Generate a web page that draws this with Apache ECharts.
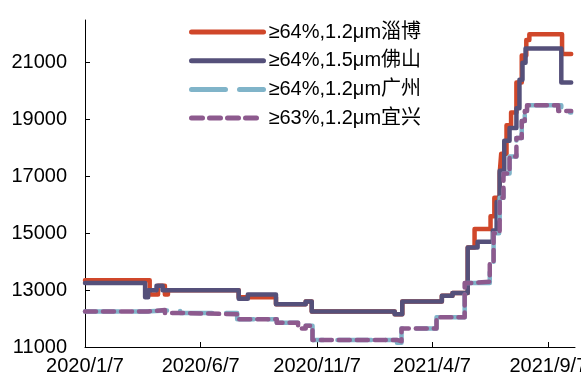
<!DOCTYPE html>
<html>
<head>
<meta charset="utf-8">
<script src="https://cdn.jsdelivr.net/npm/echarts@6/dist/echarts.min.js"></script>
<style>
  html, body { margin: 0; padding: 0; background: #fff; }
  #chart { width: 581px; height: 380px; }
</style>
</head>
<body>
<div id="chart"></div>
<script>
// series names (legend)
const seriesNames = ['≥64%,1.2μm淄博', '≥64%,1.5μm佛山', '≥64%,1.2μm广州', '≥63%,1.2μm宜兴'];

// 淄博: change dates and prices (step, held until next date)
const ziboDates = ['2020-01-07', '2020-04-01', '2020-04-12', '2020-04-21', '2020-04-25', '2020-07-27',
  '2020-09-14', '2020-10-23', '2020-10-31', '2021-02-17', '2021-02-27', '2021-04-20', '2021-05-04',
  '2021-05-24', '2021-06-02', '2021-06-23', '2021-06-28', '2021-07-05', '2021-07-07', '2021-07-14',
  '2021-07-20', '2021-07-27', '2021-08-03', '2021-08-09', '2021-08-13', '2021-09-25', '2021-10-07'];
const ziboValues = [13350, 12850, 13150, 12850, 13000, 12750,
  12500, 12600, 12250, 12150, 12600, 12800, 12900,
  14500, 15150, 15600, 16250, 17100, 17800, 18800,
  19250, 20300, 21250, 21800, 22000, 21300, 21300];

// 佛山
const foshanDates = ['2020-01-07', '2020-03-26', '2020-03-30', '2020-04-10', '2020-04-18', '2020-07-27',
  '2020-08-08', '2020-09-14', '2020-10-23', '2020-10-31', '2021-02-17', '2021-02-27', '2021-04-20',
  '2021-05-04', '2021-05-24', '2021-06-06', '2021-06-26', '2021-07-01', '2021-07-05', '2021-07-11',
  '2021-07-18', '2021-07-27', '2021-07-31', '2021-08-04', '2021-08-08', '2021-09-24', '2021-10-07'];
const foshanValues = [13250, 12750, 13000, 13150, 13000, 12700,
  12850, 12500, 12600, 12250, 12150, 12600, 12800,
  12900, 14500, 14700, 15100, 16100, 17200, 18250,
  18700, 19400, 20400, 21000, 21500, 20300, 20300];

// 广州
const guangzhouDates = ['2020-01-07', '2020-03-26', '2020-05-11', '2020-07-25', '2020-09-15', '2020-10-13',
  '2020-10-23', '2020-11-01', '2021-02-20', '2021-02-26', '2021-04-13', '2021-05-20', '2021-06-22',
  '2021-06-27', '2021-07-05', '2021-07-10', '2021-07-18', '2021-07-27', '2021-08-03', '2021-08-07',
  '2021-08-10', '2021-09-24', '2021-10-07'];
const guangzhouValues = [12250, 12300, 12200, 11980, 11850, 11650,
  11750, 11250, 11150, 11650, 12050, 13250, 13950,
  15000, 16250, 17100, 17700, 18350, 18950, 19300,
  19500, 19250, 19250];

// 宜兴
const yixingDates = ['2020-01-07', '2020-03-30', '2020-04-21', '2020-05-11', '2020-07-25', '2020-09-15',
  '2020-10-13', '2020-10-23', '2020-11-01', '2021-02-20', '2021-02-26', '2021-04-13', '2021-05-20',
  '2021-05-29', '2021-06-22', '2021-06-27', '2021-07-05', '2021-07-10', '2021-07-18', '2021-07-27',
  '2021-08-03', '2021-08-07', '2021-08-10', '2021-09-20', '2021-10-07'];
const yixingValues = [12250, 12300, 12200, 12150, 11980, 11850,
  11650, 11750, 11250, 11200, 11650, 12050, 13250,
  13300, 14000, 15000, 16250, 17100, 17700, 18350,
  18950, 19300, 19500, 19300, 19300];

// axis labels
const xTickDates = ['2020-01-07', '2020-06-07', '2020-11-07', '2021-04-07', '2021-09-07'];
const yTickValues = [11000, 13000, 15000, 17000, 19000, 21000];

const colors = ['#d0472a', '#55507a', '#80b4c9', '#8d5a8e'];
const font = '"Liberation Sans", Arial, "Noto Sans CJK SC", sans-serif';

function ts(s) {
  const p = s.split('-').map(Number);
  return new Date(p[0], p[1] - 1, p[2]).getTime();
}
function pairs(dates, values) {
  return dates.map((d, i) => [ts(d), values[i]]);
}

const chart = echarts.init(document.getElementById('chart'));

const lineTypes = ['solid', 'solid', [34, 14], [11, 7]];
const seriesData = [
  pairs(ziboDates, ziboValues),
  pairs(foshanDates, foshanValues),
  pairs(guangzhouDates, guangzhouValues),
  pairs(yixingDates, yixingValues)
];

const option = {
  animation: false,
  backgroundColor: '#fff',
  color: colors,
  textStyle: { fontFamily: font },
  grid: { left: 85, top: 20, right: 6, bottom: 33, containLabel: false, outerBoundsMode: 'none' },
  legend: {
    orient: 'vertical',
    left: 184,
    top: 16,
    itemWidth: 72,
    itemHeight: 14,
    itemGap: 6.7,
    itemStyle: { opacity: 0 },
    lineStyle: { width: 5 },
    textStyle: { fontSize: 20, color: '#000', fontFamily: font, lineHeight: 22 },
    data: seriesNames
  },
  xAxis: {
    type: 'value',
    min: ts('2020-01-07'),
    max: ts('2021-10-12'),
    axisLine: { lineStyle: { color: '#000', width: 1 } },
    axisTick: {
      show: true, inside: true, length: 5,
      lineStyle: { color: '#000' },
      customValues: xTickDates.map(ts)
    },
    axisLabel: {
      color: '#000', fontSize: 20, margin: 9,
      customValues: xTickDates.map(ts),
      hideOverlap: false,
      formatter: function (v) {
        const d = new Date(v);
        return d.getFullYear() + '/' + (d.getMonth() + 1) + '/' + d.getDate();
      }
    },
    splitLine: { show: false }
  },
  yAxis: {
    type: 'value',
    min: 11000,
    max: 22500,
    interval: 2000,
    axisLine: { show: true, lineStyle: { color: '#000', width: 1 } },
    axisTick: {
      show: true, inside: true, length: 5,
      lineStyle: { color: '#000' },
      customValues: yTickValues
    },
    axisLabel: {
      color: '#000', fontSize: 20, margin: 18,
      customValues: yTickValues,
      formatter: function (v) { return String(v); }
    },
    splitLine: { show: false }
  },
  series: seriesData.map((data, i) => ({
    name: seriesNames[i],
    type: 'line',
    step: 'end',
    showSymbol: false,
    symbol: 'none',
    data: data,
    lineStyle: { color: colors[i], width: 4.5, type: lineTypes[i], cap: 'round', join: 'round' },
    itemStyle: { color: colors[i] }
  }))
};

chart.setOption(option);
</script>
</body>
</html>
